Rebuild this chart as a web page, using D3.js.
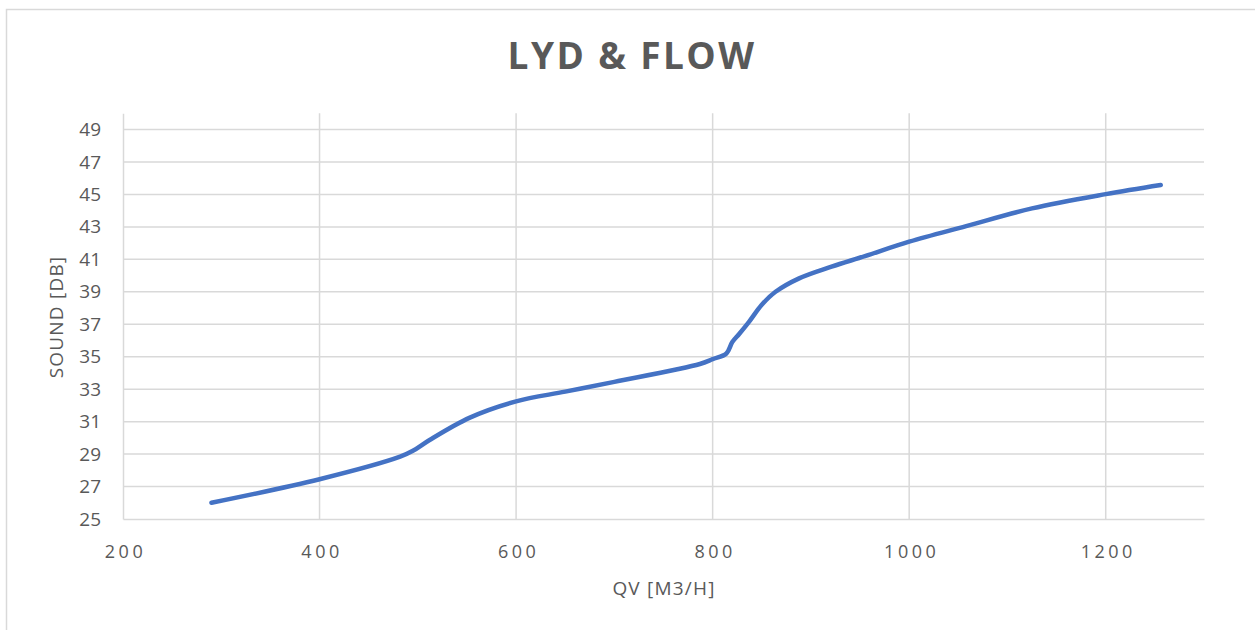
<!DOCTYPE html>
<html>
<head>
<meta charset="utf-8">
<script src="https://cdn.jsdelivr.net/npm/d3@7"></script>
<style>
  html, body { margin: 0; padding: 0; background: #fff; }
  svg { display: block; font-family: "Open Sans", "Noto Sans", sans-serif; }
</style>
</head>
<body>
<svg id="chart" width="1255" height="630"></svg>
<script>
// ---- data ----
const flow  = [290, 400, 482, 495, 512, 553, 600, 650, 700, 787, 800, 814, 820, 827, 837, 850, 864, 888, 921, 955, 1000, 1058, 1125, 1200, 1256];
const sound = [26.0, 27.45, 28.84, 29.2, 29.87, 31.25, 32.25, 32.85, 33.45, 34.55, 34.85, 35.2, 35.9, 36.4, 37.15, 38.2, 39.0, 39.83, 40.55, 41.2, 42.09, 43.05, 44.14, 45.02, 45.58];
const xTicks = [200, 400, 600, 800, 1000, 1200];
const yTicks = [25, 27, 29, 31, 33, 35, 37, 39, 41, 43, 45, 47, 49];
const titleText = "LYD & FLOW";
const xTitle = "QV [M3/H]";
const yTitle = "SOUND [DB]";

(function () {
// ---- layout ----
const svg = d3.select("#chart");
const pLeft = 123, pRight = 1204, pTop = 113.3, pBottom = 519;
const x = d3.scaleLinear().domain([200, 1300]).range([pLeft, pRight]);
const y = d3.scaleLinear().domain([25, 50]).range([pBottom, pTop]);
const grid = "#d9d9d9", textCol = "#595959";

// outer border
svg.append("rect").attr("x", 6.5).attr("y", 9.5).attr("width", 1270).attr("height", 640)
  .attr("fill", "none").attr("stroke", grid).attr("stroke-width", 1.5);

// title
svg.append("text").attr("x", 632).attr("y", 69).attr("text-anchor", "middle")
  .attr("font-size", 37).attr("font-weight", "bold").attr("letter-spacing", 2.4)
  .attr("fill", textCol).text(titleText);

// horizontal gridlines
svg.append("g").selectAll("line").data(yTicks.slice(1)).join("line")
  .attr("x1", pLeft).attr("x2", pRight).attr("y1", d => y(d)).attr("y2", d => y(d))
  .attr("stroke", grid).attr("stroke-width", 1.5);
// vertical gridlines
svg.append("g").selectAll("line").data(xTicks.slice(1)).join("line")
  .attr("x1", d => x(d)).attr("x2", d => x(d)).attr("y1", pTop).attr("y2", pBottom)
  .attr("stroke", grid).attr("stroke-width", 1.5);

// axes via d3
const xAxis = svg.append("g").attr("transform", `translate(0,${pBottom})`)
  .call(d3.axisBottom(x).tickValues(xTicks).tickFormat(d3.format("d")).tickSize(0).tickPadding(26));
xAxis.select(".domain").attr("stroke", grid).attr("stroke-width", 1.5);
xAxis.selectAll("text").attr("font-size", 18).attr("fill", textCol)
  .attr("letter-spacing", 3.5).attr("dx", 2).attr("font-family", "Open Sans");

const yAxis = svg.append("g").attr("transform", `translate(${pLeft},0)`)
  .call(d3.axisLeft(y).tickValues(yTicks).tickSize(0).tickPadding(22));
yAxis.select(".domain").attr("stroke", grid).attr("stroke-width", 1.5);
yAxis.selectAll("text").attr("font-size", 19).attr("fill", textCol).attr("font-family", "Open Sans");

// axis titles
svg.append("text").attr("x", 664).attr("y", 595).attr("text-anchor", "middle")
  .attr("font-size", 19).attr("letter-spacing", 1.2).attr("fill", textCol).text(xTitle);
svg.append("text").attr("transform", "translate(63,317) rotate(-90)").attr("text-anchor", "middle")
  .attr("font-size", 19).attr("letter-spacing", 1.2).attr("fill", textCol).text(yTitle);

// line
const line = d3.line().x((d, i) => x(flow[i])).y(d => y(d)).curve(d3.curveCatmullRom.alpha(0.5));
svg.append("path").datum(sound).attr("d", line)
  .attr("fill", "none").attr("stroke", "#4472C4").attr("stroke-width", 4.5)
  .attr("stroke-linecap", "round").attr("stroke-linejoin", "round");
})();
</script>
</body>
</html>
